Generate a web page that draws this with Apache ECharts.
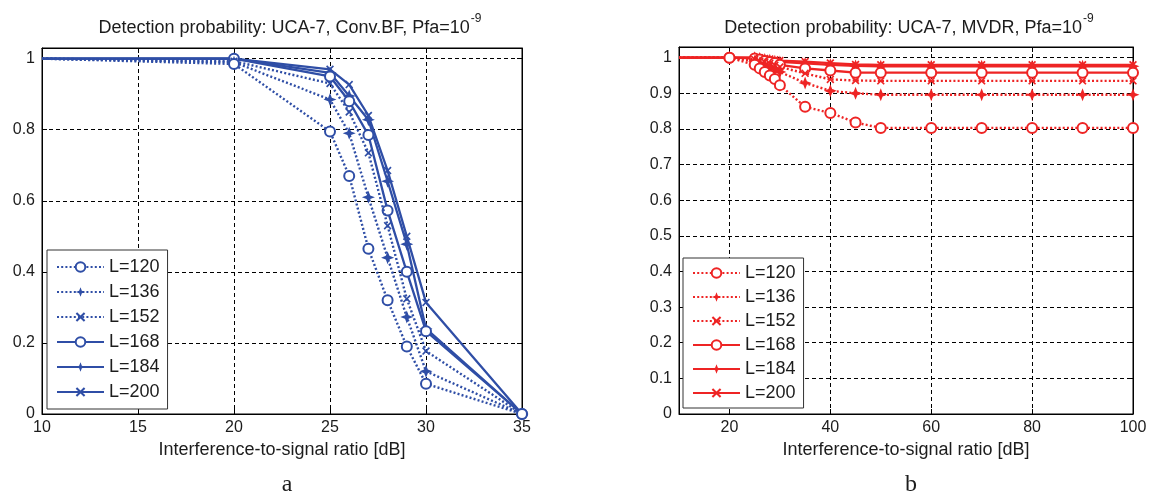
<!DOCTYPE html>
<html>
<head>
    <meta charset="utf-8">
    <title>Detection probability</title>
    <style>
        html, body { margin: 0; padding: 0; background: #fff; }
        #main { width: 1150px; height: 497px; }
    </style>
</head>
<body>
    <div id="main"></div>
    <script src="https://cdn.jsdelivr.net/npm/echarts@6/dist/echarts.min.js"></script>
    <script type="text/javascript">
        // left: Conv.BF
        var bfISR = [10, 20, 25, 26, 27, 28, 29, 30, 35];
        var bfL120 = [1, 0.985, 0.795, 0.67, 0.465, 0.32, 0.19, 0.085, 0];
        var bfL136 = [1, 0.99, 0.885, 0.79, 0.61, 0.44, 0.273, 0.12, 0];
        var bfL152 = [1, 0.993, 0.93, 0.85, 0.735, 0.53, 0.324, 0.177, 0];
        var bfL168 = [1, 1, 0.95, 0.88, 0.785, 0.573, 0.40, 0.233, 0];
        var bfL184 = [1, 1, 0.96, 0.895, 0.828, 0.655, 0.478, 0.24, 0];
        var bfL200 = [1, 1, 0.97, 0.927, 0.84, 0.685, 0.50, 0.314, 0];

        // right: MVDR
        var mvISR = [10, 20, 25, 26, 27, 28, 29, 30, 35, 40, 45, 50, 60, 70, 80, 90, 100];
        var mvL120 = [1, 1, 0.98, 0.97, 0.96, 0.95, 0.94, 0.923, 0.862, 0.845, 0.818, 0.803, 0.803, 0.803, 0.803, 0.803, 0.803];
        var mvL136 = [1, 1, 0.99, 0.985, 0.98, 0.975, 0.968, 0.96, 0.929, 0.907, 0.9, 0.896, 0.896, 0.896, 0.896, 0.896, 0.896];
        var mvL152 = [1, 1, 0.995, 0.99, 0.988, 0.984, 0.979, 0.974, 0.956, 0.939, 0.936, 0.935, 0.935, 0.935, 0.935, 0.935, 0.935];
        var mvL168 = [1, 1, 0.998, 0.995, 0.991, 0.988, 0.985, 0.98, 0.97, 0.964, 0.958, 0.958, 0.958, 0.958, 0.958, 0.958, 0.958];
        var mvL184 = [1, 1, 1, 0.998, 0.995, 0.993, 0.99, 0.988, 0.984, 0.98, 0.977, 0.976, 0.976, 0.976, 0.976, 0.976, 0.976];
        var mvL200 = [1, 1, 1, 1, 0.998, 0.996, 0.994, 0.992, 0.989, 0.985, 0.981, 0.98, 0.98, 0.98, 0.98, 0.98, 0.98];

        var names = ["L=120", "L=136", "L=152", "L=168", "L=184", "L=200"];
        var mvXTicks = [20, 40, 60, 80, 100];

        var blue = "#2f4ea6";
        var red = "#ee2424";
        var txtColor = "#1c1c1c";
        var fontName = "'Liberation Sans', Arial, sans-serif";

        var symStar = "path://M0,-10 L2.8,-2.8 L10,0 L2.8,2.8 L0,10 L-2.8,2.8 L-10,0 L-2.8,-2.8 Z";
        var symX = "path://M-10,-7 L-7,-10 L0,-3 L7,-10 L10,-7 L3,0 L10,7 L7,10 L0,3 L-7,10 L-10,7 L-3,0 Z";
        var arrSym = ["emptyCircle", symStar, symX, "emptyCircle", symStar, symX];
        var arrSize = [10, 13, 8, 10, 13, 8];

        function MakeSeries(name, xs, ys, i, color, axisIdx) {
            var data = [];
            for (var k = 0; k < xs.length; k++) {
                if (k == 0) {
                    data.push({ value: [xs[k], ys[k]], symbolSize: 0 });
                } else {
                    data.push([xs[k], ys[k]]);
                }
            }
            return {
                name: name,
                type: "line",
                xAxisIndex: axisIdx,
                yAxisIndex: axisIdx,
                data: data,
                symbol: arrSym[i],
                symbolSize: arrSize[i],
                showAllSymbol: true,
                itemStyle: { color: color, borderWidth: 2.2 },
                lineStyle: { color: color, width: i < 3 ? 2.4 : 2.3, type: i < 3 ? [2, 2.2] : "solid" },
                z: 10 - i
            };
        }

        function MakeLegend(left, top, gap, pad, names) {
            return {
                left: left,
                top: top,
                orient: "vertical",
                data: names,
                itemWidth: 47,
                itemHeight: 12,
                itemGap: gap,
                padding: pad,
                borderColor: "#333",
                borderWidth: 1,
                borderRadius: 0,
                backgroundColor: "#fff",
                selectedMode: false,
                formatter: function (n) { return n.trim(); },
                textStyle: { fontSize: 18, color: txtColor, fontFamily: fontName, lineHeight: 18 }
            };
        }

        function XAxis(grid, min, max, interval, pos, show) {
            return {
                type: "value", gridIndex: grid, min: min, max: max, interval: interval, position: pos,
                name: show ? "Interference-to-signal ratio [dB]" : "",
                nameLocation: "middle", nameGap: 27,
                nameTextStyle: { fontSize: 18, color: txtColor, fontFamily: fontName },
                axisLine: { show: true, onZero: false, lineStyle: { color: "#000", width: 1 } },
                axisTick: { show: true, inside: true, length: 5, lineStyle: { color: "#000" } },
                axisLabel: { show: show, fontSize: 16, color: txtColor, fontFamily: fontName, margin: 6 },
                splitLine: { show: show, lineStyle: { color: "#000", type: [4, 3], width: 1 } }
            };
        }

        function YAxis(grid, max, interval, pos, show) {
            return {
                type: "value", gridIndex: grid, min: 0, max: max, interval: interval, position: pos,
                axisLine: { show: true, onZero: false, lineStyle: { color: "#000", width: 1 } },
                axisTick: { show: true, inside: true, length: 5, lineStyle: { color: "#000" } },
                axisLabel: { show: show, showMaxLabel: false, fontSize: 16, color: txtColor, fontFamily: fontName, margin: 7 },
                splitLine: { show: show, lineStyle: { color: "#000", type: [4, 3], width: 1 } }
            };
        }

        var myChart = echarts.init(document.getElementById("main"), null, { renderer: "canvas" });

        var xLeftB = XAxis(0, 10, 35, 5, "bottom", true);
        var xLeftT = XAxis(0, 10, 35, 5, "top", false);
        var xRightB = XAxis(1, 10, 100, 10, "bottom", true);
        var xRightT = XAxis(1, 10, 100, 10, "top", false);
        xRightB.axisTick.customValues = mvXTicks;
        xRightB.axisLabel.customValues = mvXTicks;
        xRightT.axisTick.customValues = mvXTicks;

        var series = [];
        var bfAll = [bfL120, bfL136, bfL152, bfL168, bfL184, bfL200];
        var mvAll = [mvL120, mvL136, mvL152, mvL168, mvL184, mvL200];
        for (var i = 0; i < 6; i++) {
            series.push(MakeSeries(names[i], bfISR, bfAll[i], i, blue, 0));
        }
        // trailing space keeps the red legend apart from the blue one
        for (var i = 0; i < 6; i++) {
            series.push(MakeSeries(names[i] + " ", mvISR, mvAll[i], i, red, 2));
        }

        var titleRich = {
            a: { fontSize: 18, fontWeight: "normal", color: txtColor, fontFamily: fontName, lineHeight: 24, verticalAlign: "bottom" },
            s: { fontSize: 12, fontWeight: "normal", color: txtColor, fontFamily: fontName, lineHeight: 24, verticalAlign: "top", padding: [0, 0, 0, 1] }
        };

        var option = {
            animation: false,
            backgroundColor: "#fff",
            title: [
                { text: "{a|Detection probability: UCA-7, Conv.BF, Pfa=10}{s|-9}", left: 285, top: 8, textAlign: "center", textStyle: { fontWeight: "normal", rich: titleRich } },
                { text: "{a|Detection probability: UCA-7, MVDR, Pfa=10}{s|-9}", left: 904, top: 8, textAlign: "center", textStyle: { fontWeight: "normal", rich: titleRich } },
                { text: "a", left: 282, top: 468, textAlign: "center", textStyle: { fontSize: 24, fontWeight: "normal", color: txtColor, fontFamily: "'Liberation Serif', 'DejaVu Serif', serif" } },
                { text: "b", left: 906, top: 468, textAlign: "center", textStyle: { fontSize: 24, fontWeight: "normal", color: txtColor, fontFamily: "'Liberation Serif', 'DejaVu Serif', serif" } }
            ],
            legend: [
                MakeLegend(47, 250, 7, [8, 8, 8, 9], names),
                MakeLegend(683, 258, 6, [6, 8, 6, 9], names.map(function (n) { return n + " "; }))
            ],
            grid: [
                { left: 42, top: 48, width: 480, height: 366, show: true, borderColor: "#000", borderWidth: 1, backgroundColor: "#fff" },
                { left: 679, top: 47, width: 454, height: 367, show: true, borderColor: "#000", borderWidth: 1, backgroundColor: "#fff" }
            ],
            xAxis: [xLeftB, xLeftT, xRightB, xRightT],
            yAxis: [
                YAxis(0, 1.03, 0.2, "left", true),
                YAxis(0, 1.03, 0.2, "right", false),
                YAxis(1, 1.03, 0.1, "left", true),
                YAxis(1, 1.03, 0.1, "right", false)
            ],
            series: series
        };
        myChart.setOption(option);
    </script>
</body>
</html>
